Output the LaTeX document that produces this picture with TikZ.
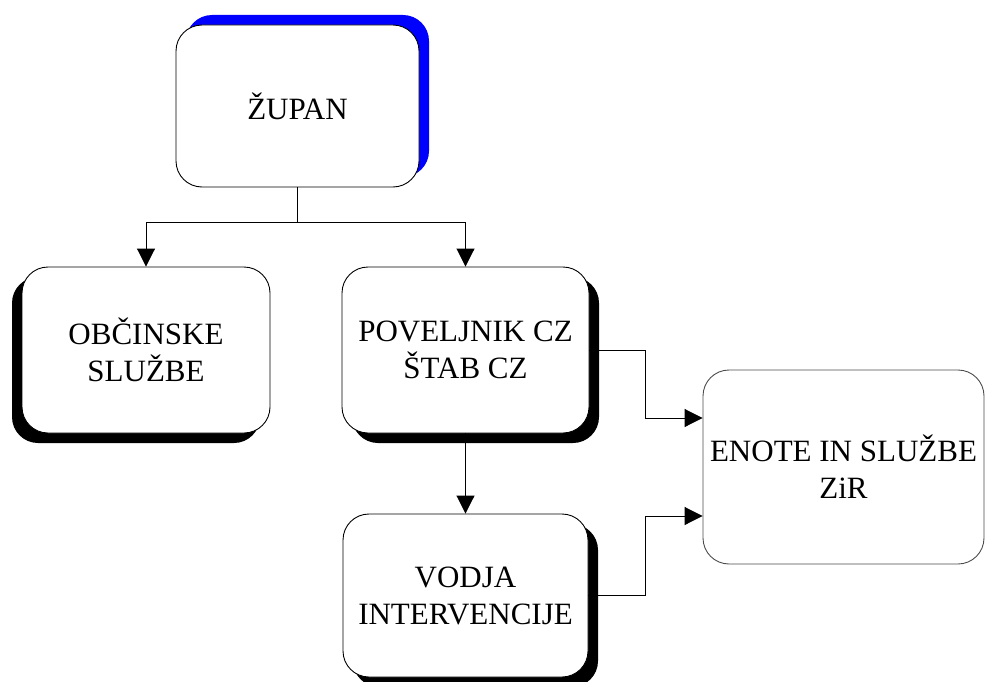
\documentclass[tikz,border=0pt]{standalone}
\usepackage{fontspec}
\setmainfont{Liberation Serif}
\usetikzlibrary{arrows.meta,shadows}
\begin{document}
\begin{tikzpicture}[x=1pt,y=-1pt,
  box/.style={draw=black, fill=white, line width=0.9pt, rounded corners=26pt,
    align=center, font=\fontsize{31}{37}\selectfont, inner sep=0pt},
  shdr/.style={general shadow={fill=black, shadow xshift=10pt, shadow yshift=-10pt}},
  shdl/.style={general shadow={fill=black, shadow xshift=-10pt, shadow yshift=-10pt}},
  shdb/.style={general shadow={fill=blue, shadow xshift=10pt, shadow yshift=10pt}},
  conn/.style={line width=0.9pt},
  arr/.style={line width=0.9pt, -{Triangle[length=18pt,width=18pt]}}]
\useasboundingbox (0,0) rectangle (985,682);
\node[box, shdb, minimum width=243pt, minimum height=162pt] (zupan) at (297.5,106) {ŽUPAN};
\node[box, shdl, minimum width=248pt, minimum height=166pt] (obc) at (146,350) {OBČINSKE\\SLUŽBE};
\node[box, shdr, minimum width=247pt, minimum height=166pt] (pov) at (465.5,350) {POVELJNIK CZ\\ŠTAB CZ};
\node[box, shdr, minimum width=245pt, minimum height=163pt] (vod) at (465.5,595.5) {VODJA\\INTERVENCIJE};
\node[box, draw=black!70, minimum width=281pt, minimum height=194pt] (enote) at (843.5,467) {ENOTE IN SLUŽBE\\ZiR};
\coordinate (j) at (297.5,222);
\coordinate (b1) at (645,350);
\coordinate (b2) at (645,595.5);
\draw[conn] (zupan.south) -- (j);
\draw[arr] (j) -| (obc.north);
\draw[arr] (j) -| (pov.north);
\draw[arr] (pov.south) -- (vod.north);
\draw[arr] (pov.east) -- (b1) |- ([yshift=49pt]enote.west);
\draw[arr] (vod.east) -- (b2) |- ([yshift=-49pt]enote.west);
\end{tikzpicture}
\end{document}
